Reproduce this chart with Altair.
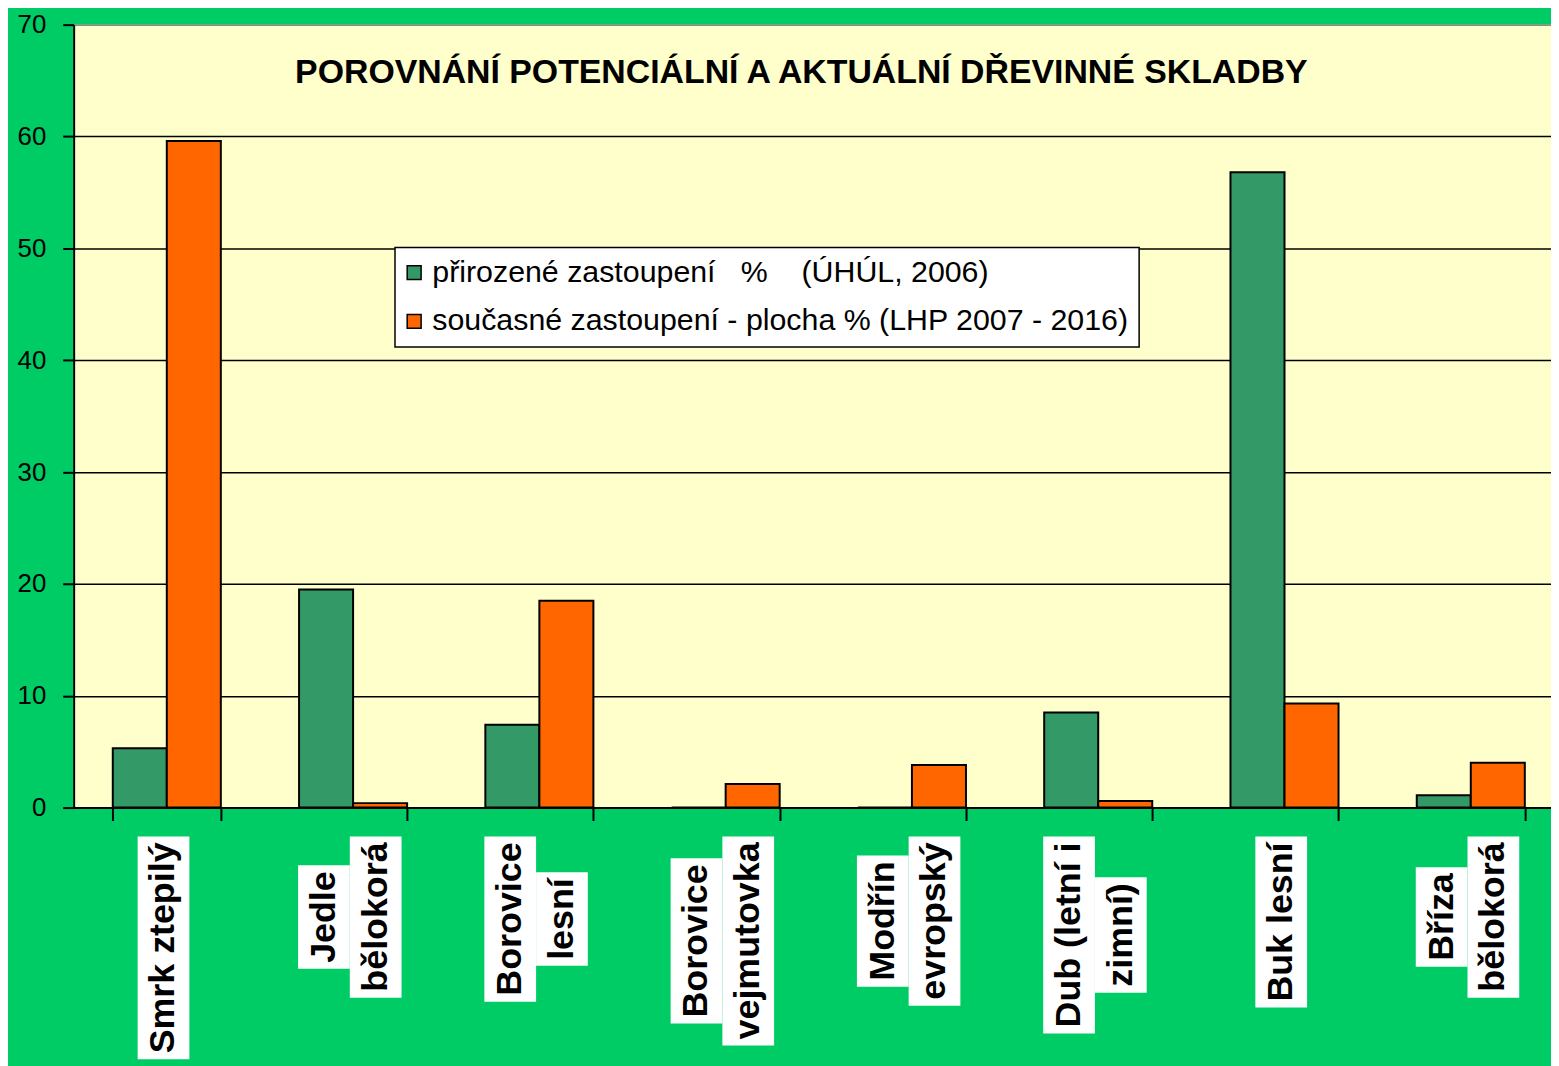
import altair as alt
import pandas as pd

# ---- data ----
categories = ["Smrk ztepilý", "Jedle bělokorá", "Borovice lesní", "Borovice vejmutovka",
              "Modřín evropský", "Dub (letní i zimní)", "Buk lesní", "Bříza bělokorá"]
label_lines = [["Smrk ztepilý"], ["Jedle", "bělokorá"], ["Borovice", "lesní"],
               ["Borovice", "vejmutovka"], ["Modřín", "evropský"], ["Dub (letní i", "zimní)"],
               ["Buk lesní"], ["Bříza", "bělokorá"]]
series = ["přirozené zastoupení\u00a0\u00a0\u00a0%\u00a0\u00a0\u00a0\u00a0(ÚHÚL, 2006)",
          "současné zastoupení - plocha % (LHP 2007 - 2016)"]
natural = [5.3, 19.5, 7.4, 0.0, 0.0, 8.5, 56.8, 1.1]
current = [59.6, 0.4, 18.5, 2.1, 3.8, 0.6, 9.3, 4.0]
title_text = "POROVNÁNÍ POTENCIÁLNÍ A AKTUÁLNÍ DŘEVINNÉ SKLADBY"

# ---- tables built from the arrays ----
rows = []
for c, a, b in zip(categories, natural, current):
    rows.append({"cat": c, "series": series[0], "value": a})
    rows.append({"cat": c, "series": series[1], "value": b})
bars_df = pd.DataFrame(rows)

# approximate Arial Bold advance widths (per 1000 em) to size the white label boxes
W = {' ': 278, '(': 333, ')': 333, 'A': 722, 'B': 722, 'D': 722, 'J': 556, 'M': 833,
     'S': 667, 'Ř': 722, 'a': 556, 'á': 556, 'b': 611, 'c': 556, 'd': 611, 'e': 556,
     'ě': 556, 'i': 278, 'í': 278, 'j': 278, 'k': 556, 'l': 278, 'm': 889, 'n': 611,
     'o': 611, 'p': 611, 'r': 389, 'ř': 389, 's': 556, 't': 333, 'u': 611, 'v': 556,
     'y': 556, 'ý': 556, 'z': 500}
LABEL_FS = 36


def text_len(s):
    return sum(W.get(ch, 556) for ch in s) * LABEL_FS / 1000.0 + 12


lab_rows = []
for c, lines in zip(categories, label_lines):
    for j, ln in enumerate(lines):
        lab_rows.append({"cat": c, "line": ln, "j": j, "n": len(lines), "L": text_len(ln)})
lab_df = pd.DataFrame(lab_rows)

FONT = "Liberation Sans"

x_scale = alt.Scale(range=[0, 1498], paddingInner=0.42, paddingOuter=0.21)

x_axis = alt.Axis(labels=False, title=None, tickBand="extent", tickSize=13,
                  tickColor="black", tickWidth=2, domainColor="black", domainWidth=2,
                  grid=False)
y_axis = alt.Axis(values=list(range(0, 71, 10)), title=None, tickSize=11,
                  tickColor="black", tickWidth=2, domainColor="black", domainWidth=2,
                  labelFontSize=26, labelFont=FONT, labelColor="black", labelPadding=17,
                  grid=True, gridWidth=1.5,
                  gridColor={"condition": {"test": "datum.value == 70", "value": "#8a8a8a"},
                             "value": "black"})

legend = alt.Legend(orient="none", legendX=323, legendY=224, title=None,
                    fillColor="white", strokeColor="black", padding=10,
                    symbolType="square", symbolSize=196, symbolStrokeColor="black",
                    symbolStrokeWidth=1.5, symbolOpacity=1, symbolOffset=-6,
                    labelFontSize=30.5, labelFont=FONT, labelColor="black",
                    rowPadding=18, labelOffset=3, labelLimit=0)

bars = alt.Chart(bars_df).mark_bar(stroke="black", strokeWidth=2).encode(
    x=alt.X("cat:N", sort=categories, scale=x_scale, axis=x_axis),
    xOffset=alt.XOffset("series:N", sort=series,
                        scale=alt.Scale(paddingInner=0, paddingOuter=0)),
    y=alt.Y("value:Q", scale=alt.Scale(domain=[0, 70]), axis=y_axis),
    color=alt.Color("series:N", sort=series,
                    scale=alt.Scale(domain=series, range=["#339966", "#FF6600"]),
                    legend=legend),
)

lab_base = alt.Chart(lab_df).transform_joinaggregate(
    M="max(L)", groupby=["cat"]
).transform_calculate(
    yc="816 + datum.M / 2",
    y0="816 + datum.M / 2 - datum.L / 2",
    y1="816 + datum.M / 2 + datum.L / 2",
    off="(datum.j - (datum.n - 1) / 2) * 52 + 51",
)

boxes = lab_base.mark_rule(color="white", strokeWidth=52, strokeCap="butt").encode(
    x=alt.X("cat:N", sort=categories),
    xOffset=alt.XOffset("off:Q", scale=None),
    y=alt.Y("y0:Q", scale=None),
    y2="y1:Q",
)

texts = lab_base.mark_text(font=FONT, fontSize=LABEL_FS, fontWeight="bold", angle=270,
                           align="center", baseline="middle", color="black").encode(
    x=alt.X("cat:N", sort=categories),
    xOffset=alt.XOffset("off:Q", scale=None),
    y=alt.Y("yc:Q", scale=None),
    text="line:N",
)

chart = alt.layer(bars, boxes, texts).resolve_scale(
    y="independent", xOffset="independent"
).properties(
    width=1485, height=787,
    background="#00CC66",
    autosize=alt.AutoSizeParams(type="none"),
    padding={"left": 66, "top": 14, "right": 0, "bottom": 257},
    title=alt.TitleParams(title_text, font=FONT, fontSize=34, fontWeight="bold",
                          color="black", anchor="middle", frame="group",
                          baseline="alphabetic", offset=0, dy=106, dx=-11),
).configure_view(fill="#FFFFCC", stroke=None).configure_legend(strokeWidth=1.5)

chart.save("out.html", embed_options={"renderer": "svg", "actions": False})
